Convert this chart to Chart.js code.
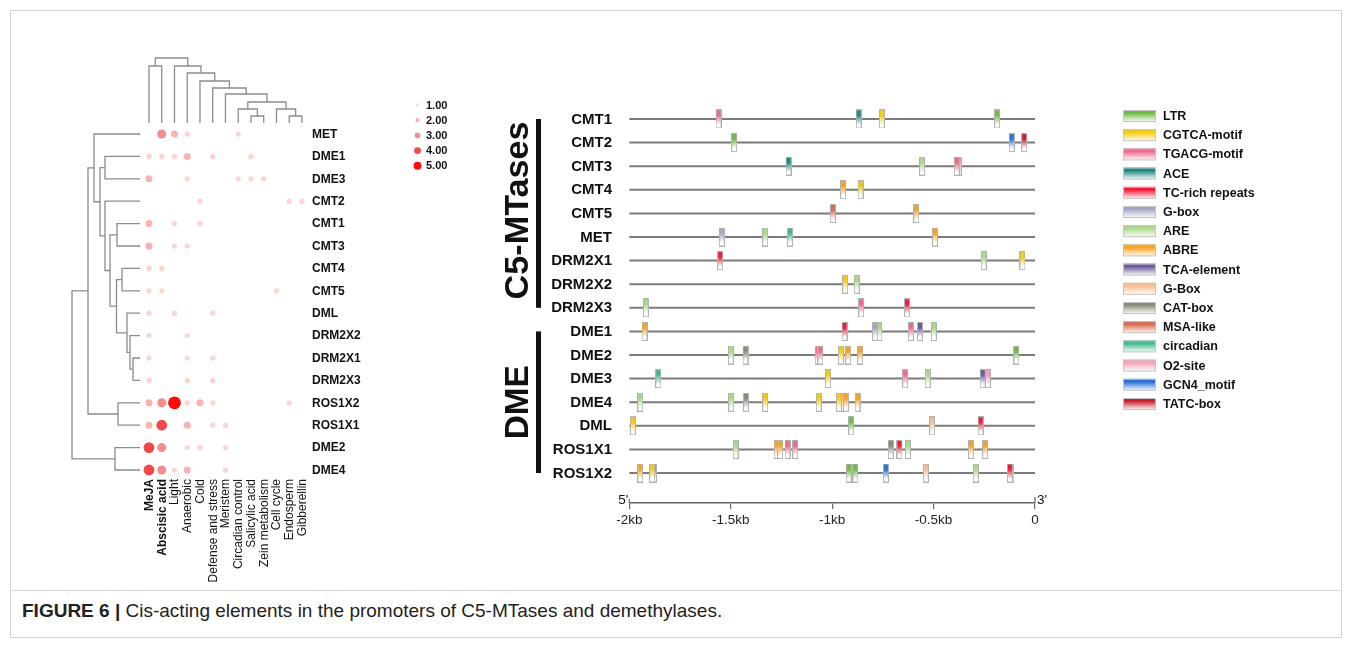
<!DOCTYPE html>
<html>
<head>
<meta charset="utf-8">
<script src="https://cdn.jsdelivr.net/npm/chart.js@4.4.1/dist/chart.umd.min.js"></script>
<style>
  body { margin: 0; background: #fff; font-family: "Liberation Sans", Arial, sans-serif; }
  #figure { position: relative; width: 1352px; height: 647px; overflow: hidden; }
  #frame { position: absolute; left: 10px; top: 10px; width: 1330px; height: 626px; border: 1px solid #d4d4d4; }
  #rule { position: absolute; left: 11px; top: 590px; width: 1330px; height: 1px; background: #d4d4d4; }
  #caption { position: absolute; left: 22px; top: 600px; font-size: 19px; color: #222; white-space: nowrap; }
  #heatCanvas { position: absolute; left: 0; top: 0; }
  #siteCanvas { position: absolute; left: 480px; top: 0; }
</style>
</head>
<body>
<div id="figure">
  <div id="frame"></div>
  <div id="rule"></div>
  <canvas id="heatCanvas" width="500" height="590"></canvas>
  <canvas id="siteCanvas" width="872" height="590"></canvas>
  <div id="caption"><b>FIGURE 6 |</b> Cis-acting elements in the promoters of C5-MTases and demethylases.</div>
</div>
<script>
// ---- left panel: counts of cis-element classes per gene ----
const hormoneLabels = ["MeJA", "Abscisic acid", "Light", "Anaerobic", "Cold", "Defense and stress", "Meristem",
  "Circadian control", "Salicylic acid", "Zein metabolism", "Cell cycle", "Endosperm", "Gibberellin"];
const heatGenes = ["MET", "DME1", "DME3", "CMT2", "CMT1", "CMT3", "CMT4", "CMT5", "DML",
  "DRM2X2", "DRM2X1", "DRM2X3", "ROS1X2", "ROS1X1", "DME2", "DME4"];
const heatScores = [
  [0, 3, 2, 1, 0, 0, 0, 1, 0, 0, 0, 0, 0], // MET
  [1, 1, 1, 2, 0, 1, 0, 0, 1, 0, 0, 0, 0], // DME1
  [2, 0, 0, 1, 0, 0, 0, 1, 1, 1, 0, 0, 0], // DME3
  [0, 0, 0, 0, 1, 0, 0, 0, 0, 0, 0, 1, 1], // CMT2
  [2, 0, 1, 0, 1, 0, 0, 0, 0, 0, 0, 0, 0], // CMT1
  [2, 0, 1, 1, 0, 0, 0, 0, 0, 0, 0, 0, 0], // CMT3
  [1, 1, 0, 0, 0, 0, 0, 0, 0, 0, 0, 0, 0], // CMT4
  [1, 1, 0, 0, 0, 0, 0, 0, 0, 0, 1, 0, 0], // CMT5
  [1, 0, 1, 0, 0, 1, 0, 0, 0, 0, 0, 0, 0], // DML
  [1, 0, 0, 1, 0, 0, 0, 0, 0, 0, 0, 0, 0], // DRM2X2
  [1, 0, 0, 1, 0, 1, 0, 0, 0, 0, 0, 0, 0], // DRM2X1
  [1, 0, 0, 1, 0, 1, 0, 0, 0, 0, 0, 0, 0], // DRM2X3
  [2, 3, 5, 1, 2, 1, 0, 0, 0, 0, 0, 1, 0], // ROS1X2
  [2, 4, 0, 2, 0, 1, 1, 0, 0, 0, 0, 0, 0], // ROS1X1
  [4, 3, 0, 1, 1, 0, 1, 0, 0, 0, 0, 0, 0], // DME2
  [4, 3, 1, 2, 0, 0, 1, 0, 0, 0, 0, 0, 0]  // DME4
];
const scoreLegend = [1, 2, 3, 4, 5];

// dendrograms: [left node, right node, height]; merged nodes get ids after the leaves
const colTree = [[0, 1, 57], [11, 12, 7], [8, 9, 7], [7, 15, 14], [10, 14, 14], [16, 17, 21],
  [6, 18, 29], [5, 19, 35], [4, 20, 42], [3, 21, 50], [2, 22, 57], [13, 23, 65]];
const rowTree = [[1, 2, 35], [4, 5, 23], [6, 7, 18], [10, 11, 7], [9, 19, 10], [8, 20, 13],
  [18, 21, 23.5], [17, 22, 30], [3, 23, 35], [16, 24, 40], [0, 25, 46], [12, 13, 22],
  [26, 27, 52], [14, 15, 25], [28, 29, 68]];

// ---- right panel: element positions in the 2kb promoters ----
const promoterGenes = ["CMT1", "CMT2", "CMT3", "CMT4", "CMT5", "MET", "DRM2X1", "DRM2X2", "DRM2X3",
  "DME1", "DME2", "DME3", "DME4", "DML", "ROS1X1", "ROS1X2"];
const familyNames = ["C5-MTases", "DME"];
const familyFirst = ["CMT1", "DME1"];
const familyLast = ["DRM2X3", "ROS1X2"];
const elementNames = ["LTR", "CGTCA-motif", "TGACG-motif", "ACE", "TC-rich repeats", "G-box", "ARE", "ABRE",
  "TCA-element", "G-Box", "CAT-box", "MSA-like", "circadian", "O2-site", "GCN4_motif", "TATC-box"];
const xTickValues = [-2, -1.5, -1, -0.5, 0];
const xTickLabels = ["-2kb", "-1.5kb", "-1kb", "-0.5kb", "0"];
// [gene, element, position (kb from start codon)]
const siteList = [
  ["CMT1", "TGACG-motif", -1.56], ["CMT1", "ACE", -0.869], ["CMT1", "CGTCA-motif", -0.755], ["CMT1", "LTR", -0.187],
  ["CMT2", "LTR", -1.483], ["CMT2", "GCN4_motif", -0.115], ["CMT2", "TATC-box", -0.053],
  ["CMT3", "ACE", -1.215], ["CMT3", "ARE", -0.557], ["CMT3", "TGACG-motif", -0.386], ["CMT3", "O2-site", -0.376],
  ["CMT4", "ABRE", -0.946], ["CMT4", "CGTCA-motif", -0.86],
  ["CMT5", "MSA-like", -0.997], ["CMT5", "ABRE", -0.585],
  ["MET", "G-box", -1.544], ["MET", "ARE", -1.33], ["MET", "circadian", -1.208], ["MET", "ABRE", -0.493],
  ["DRM2X1", "TC-rich repeats", -1.552], ["DRM2X1", "ARE", -0.253], ["DRM2X1", "CGTCA-motif", -0.062],
  ["DRM2X2", "CGTCA-motif", -0.936], ["DRM2X2", "ARE", -0.879],
  ["DRM2X3", "ARE", -1.918], ["DRM2X3", "TGACG-motif", -0.857], ["DRM2X3", "TC-rich repeats", -0.631],
  ["DME1", "ABRE", -1.925], ["DME1", "TC-rich repeats", -0.939], ["DME1", "G-box", -0.788], ["DME1", "ARE", -0.767],
  ["DME1", "TGACG-motif", -0.612], ["DME1", "TCA-element", -0.567], ["DME1", "ARE", -0.499],
  ["DME2", "ARE", -1.499], ["DME2", "CAT-box", -1.427], ["DME2", "TGACG-motif", -1.071], ["DME2", "TGACG-motif", -1.058],
  ["DME2", "CGTCA-motif", -0.957], ["DME2", "ABRE", -0.921], ["DME2", "ABRE", -0.862], ["DME2", "LTR", -0.092],
  ["DME3", "circadian", -1.857], ["DME3", "CGTCA-motif", -1.02], ["DME3", "TGACG-motif", -0.64], ["DME3", "ARE", -0.529],
  ["DME3", "TCA-element", -0.258], ["DME3", "O2-site", -0.233],
  ["DME4", "ARE", -1.946], ["DME4", "ARE", -1.498], ["DME4", "CAT-box", -1.425], ["DME4", "CGTCA-motif", -1.33],
  ["DME4", "CGTCA-motif", -1.066], ["DME4", "CGTCA-motif", -0.967], ["DME4", "G-Box", -0.944], ["DME4", "ABRE", -0.932],
  ["DME4", "ABRE", -0.875],
  ["DML", "CGTCA-motif", -1.982], ["DML", "LTR", -0.906], ["DML", "G-Box", -0.507], ["DML", "TC-rich repeats", -0.268],
  ["ROS1X1", "ARE", -1.476], ["ROS1X1", "ABRE", -1.273], ["ROS1X1", "ABRE", -1.256], ["ROS1X1", "TGACG-motif", -1.22],
  ["ROS1X1", "TGACG-motif", -1.182], ["ROS1X1", "CAT-box", -0.711], ["ROS1X1", "TC-rich repeats", -0.668],
  ["ROS1X1", "ARE", -0.627], ["ROS1X1", "ABRE", -0.315], ["ROS1X1", "ABRE", -0.246],
  ["ROS1X2", "ABRE", -1.946], ["ROS1X2", "CGTCA-motif", -1.887], ["ROS1X2", "TGACG-motif", -1.879],
  ["ROS1X2", "LTR", -0.918], ["ROS1X2", "LTR", -0.885], ["ROS1X2", "GCN4_motif", -0.735], ["ROS1X2", "G-Box", -0.538],
  ["ROS1X2", "ARE", -0.292], ["ROS1X2", "TC-rich repeats", -0.124], ["ROS1X2", "ABRE", -0.116]
];

// styles
const FONT = '"Liberation Sans", Arial, sans-serif';
const scoreColors = ["#ffffff", "#fcd4d4", "#f9b2b2", "#f68c8c", "#f24848", "#ff0a0a"];
const scoreRadius = [0, 2.6, 3.5, 4.5, 5.4, 6.4];
const legendRadius = [0, 1.4, 2.1, 2.8, 3.4, 4];
const elementColors = ["#6fbb48", "#f5cc0c", "#ee6a8a", "#1f8a80", "#ec1c3a", "#a6a6c4", "#a9d98a", "#f6a324",
  "#6d5b9e", "#f8bd92", "#878c7a", "#d9694e", "#45b98a", "#f4a2b6", "#2a6fd2", "#c9202f"];

Chart.defaults.font.family = FONT;

function drawTree(ctx, merges, leafCount, leafPos, hPix, vertical) {
  const pos = [], hgt = [];
  for (let i = 0; i < leafCount; i++) { pos.push(leafPos(i)); hgt.push(0); }
  ctx.beginPath();
  merges.forEach(([a, b, h]) => {
    const p = hPix(h);
    if (vertical) {
      ctx.moveTo(pos[a], hPix(hgt[a])); ctx.lineTo(pos[a], p);
      ctx.lineTo(pos[b], p); ctx.lineTo(pos[b], hPix(hgt[b]));
    } else {
      ctx.moveTo(hPix(hgt[a]), pos[a]); ctx.lineTo(p, pos[a]);
      ctx.lineTo(p, pos[b]); ctx.lineTo(hPix(hgt[b]), pos[b]);
    }
    pos.push((pos[a] + pos[b]) / 2);
    hgt.push(h);
  });
  ctx.stroke();
}

const heatDecor = {
  id: "heatDecor",
  afterDatasetsDraw(chart) {
    const ctx = chart.ctx, xs = chart.scales.x, ys = chart.scales.y;
    ctx.save();
    ctx.strokeStyle = "#8c8c8c";
    ctx.lineWidth = 1.3;
    drawTree(ctx, colTree, hormoneLabels.length, i => xs.getPixelForValue(i), h => 123 - h, true);
    drawTree(ctx, rowTree, heatGenes.length, i => ys.getPixelForValue(i), h => 140 - h, false);

    ctx.fillStyle = "#111";
    ctx.textBaseline = "middle";
    ctx.textAlign = "left";
    ctx.font = "bold 12px " + FONT;
    heatGenes.forEach((g, i) => ctx.fillText(g, 312, ys.getPixelForValue(i) + 0.5));

    hormoneLabels.forEach((lab, i) => {
      ctx.save();
      ctx.translate(xs.getPixelForValue(i) + 0.5, 479);
      ctx.rotate(-Math.PI / 2);
      ctx.textAlign = "right";
      ctx.font = (i < 2 ? "bold " : "") + "12px " + FONT;
      ctx.fillText(lab, 0, 0);
      ctx.restore();
    });

    // size legend
    ctx.font = "bold 11px " + FONT;
    scoreLegend.forEach((v, i) => {
      const y = 105 + i * 15.2;
      ctx.fillStyle = scoreColors[v];
      ctx.beginPath();
      ctx.arc(417.5, y, legendRadius[v], 0, Math.PI * 2);
      ctx.fill();
      ctx.fillStyle = "#111";
      ctx.fillText(v.toFixed(2), 426, y + 0.5);
    });
    ctx.restore();
  }
};

const bubblePoints = [];
heatScores.forEach((row, r) => row.forEach((v, c) => {
  if (v > 0) bubblePoints.push({ x: c, y: r, r: scoreRadius[v], v: v });
}));

new Chart(document.getElementById("heatCanvas"), {
  type: "bubble",
  data: {
    datasets: [{
      data: bubblePoints,
      backgroundColor: ctx => scoreColors[ctx.raw ? ctx.raw.v : 1],
      borderWidth: 0,
      clip: false
    }]
  },
  options: {
    responsive: false,
    animation: false,
    events: [],
    layout: { padding: { left: 142.6, right: 191.65, top: 122.8, bottom: 108.8 } },
    scales: {
      x: { type: "linear", min: -0.5, max: 12.5, display: false },
      y: { type: "linear", min: -0.5, max: 15.5, reverse: true, display: false }
    },
    plugins: { legend: { display: false }, tooltip: { enabled: false } }
  },
  plugins: [heatDecor]
});

// ---- right panel ----
function makeSiteMark(color) {
  const c = document.createElement("canvas");
  c.width = 6; c.height = 19;
  const g = c.getContext("2d");
  const grad = g.createLinearGradient(0, 0, 0, 19);
  grad.addColorStop(0, color);
  grad.addColorStop(0.3, color);
  grad.addColorStop(0.8, "#ffffff");
  g.fillStyle = grad;
  g.fillRect(0.5, 0.5, 5, 18);
  g.strokeStyle = "#b3b3b3";
  g.lineWidth = 1;
  g.strokeRect(0.5, 0.5, 5, 18);
  return c;
}

const siteDatasets = elementNames.map((name, k) => ({
  type: "scatter",
  label: name,
  data: siteList.filter(s => s[1] === name).map(s => ({ x: s[2], y: promoterGenes.indexOf(s[0]) })),
  pointStyle: makeSiteMark(elementColors[k]),
  pointRadius: 3,
  pointHoverRadius: 3,
  order: 1,
  clip: false
}));

const geneLines = promoterGenes.map((g, i) => ({
  type: "line",
  label: g,
  data: [{ x: xTickValues[0], y: i }, { x: xTickValues[xTickValues.length - 1], y: i }],
  borderColor: "#7b7b7b",
  borderWidth: 2,
  pointRadius: 0,
  order: 2,
  clip: false
}));

const siteDecor = {
  id: "siteDecor",
  afterDraw(chart) {
    const ctx = chart.ctx, xs = chart.scales.x, ys = chart.scales.y;
    ctx.save();
    ctx.fillStyle = "#111";
    ctx.textBaseline = "middle";
    ctx.textAlign = "right";
    ctx.font = "bold 15px " + FONT;
    promoterGenes.forEach((g, i) => ctx.fillText(g, 132, ys.getPixelForValue(i) + 0.5));

    // family brackets
    const targetLen = [178, 74];
    familyNames.forEach((name, k) => {
      const y0 = ys.getPixelForValue(promoterGenes.indexOf(familyFirst[k]));
      const y1 = ys.getPixelForValue(promoterGenes.indexOf(familyLast[k]));
      ctx.fillRect(56, y0, 5, y1 - y0);
      ctx.save();
      ctx.translate(37, (y0 + y1) / 2 + (k === 0 ? -3 : 0));
      ctx.rotate(-Math.PI / 2);
      ctx.font = "bold 33px " + FONT;
      const w = ctx.measureText(name).width;
      ctx.scale(targetLen[k] / w, 1);
      ctx.textAlign = "center";
      ctx.fillText(name, 0, 2);
      ctx.restore();
    });

    // 5' / 3' ends
    const yAxis = chart.chartArea.bottom;
    ctx.font = "13.5px " + FONT;
    ctx.textAlign = "right";
    ctx.fillText("5'", xs.getPixelForValue(-2) - 1, yAxis - 3);
    ctx.textAlign = "left";
    ctx.fillText("3'", xs.getPixelForValue(0) + 2, yAxis - 3);
    ctx.strokeStyle = "#666";
    ctx.lineWidth = 1.2;
    ctx.beginPath();
    ctx.moveTo(xs.getPixelForValue(0), yAxis); ctx.lineTo(xs.getPixelForValue(0), yAxis - 6);
    ctx.moveTo(xs.getPixelForValue(-2), yAxis); ctx.lineTo(xs.getPixelForValue(-2), yAxis - 4);
    ctx.stroke();

    // element legend
    ctx.font = "bold 12.5px " + FONT;
    ctx.textAlign = "left";
    elementNames.forEach((name, k) => {
      const y = 116 + k * 19.2;
      const grad = ctx.createLinearGradient(0, y - 6, 0, y + 6);
      grad.addColorStop(0, elementColors[k]);
      grad.addColorStop(0.25, elementColors[k]);
      grad.addColorStop(1, "#ffffff");
      ctx.fillStyle = grad;
      ctx.fillRect(643, y - 6, 33, 12);
      ctx.strokeStyle = "#c4c4c4";
      ctx.lineWidth = 1;
      ctx.strokeRect(643.5, y - 5.5, 32, 11);
      ctx.fillStyle = "#111";
      ctx.fillText(name, 683, y + 0.5);
    });
    ctx.restore();
  }
};

new Chart(document.getElementById("siteCanvas"), {
  type: "scatter",
  data: { datasets: geneLines.concat(siteDatasets) },
  options: {
    responsive: false,
    animation: false,
    events: [],
    layout: { padding: { left: 149.3, right: 317, top: 100, bottom: 47 } },
    scales: {
      x: {
        type: "linear",
        min: -2,
        max: 0,
        afterFit: s => { s.height = 40; },
        grid: { drawOnChartArea: false, drawTicks: true, tickLength: 6, color: "#666", lineWidth: 1.2 },
        border: { display: true, color: "#666", width: 1.5 },
        ticks: {
          stepSize: 0.5,
          padding: 3,
          maxRotation: 0,
          color: "#222",
          font: { size: 13.5 },
          callback: v => {
            const i = xTickValues.findIndex(t => Math.abs(t - v) < 1e-6);
            return i < 0 ? "" : xTickLabels[i];
          }
        }
      },
      y: { type: "linear", min: -0.805, max: 16.27, reverse: true, display: false }
    },
    plugins: { legend: { display: false }, tooltip: { enabled: false } }
  },
  plugins: [siteDecor]
});
</script>
</body>
</html>
